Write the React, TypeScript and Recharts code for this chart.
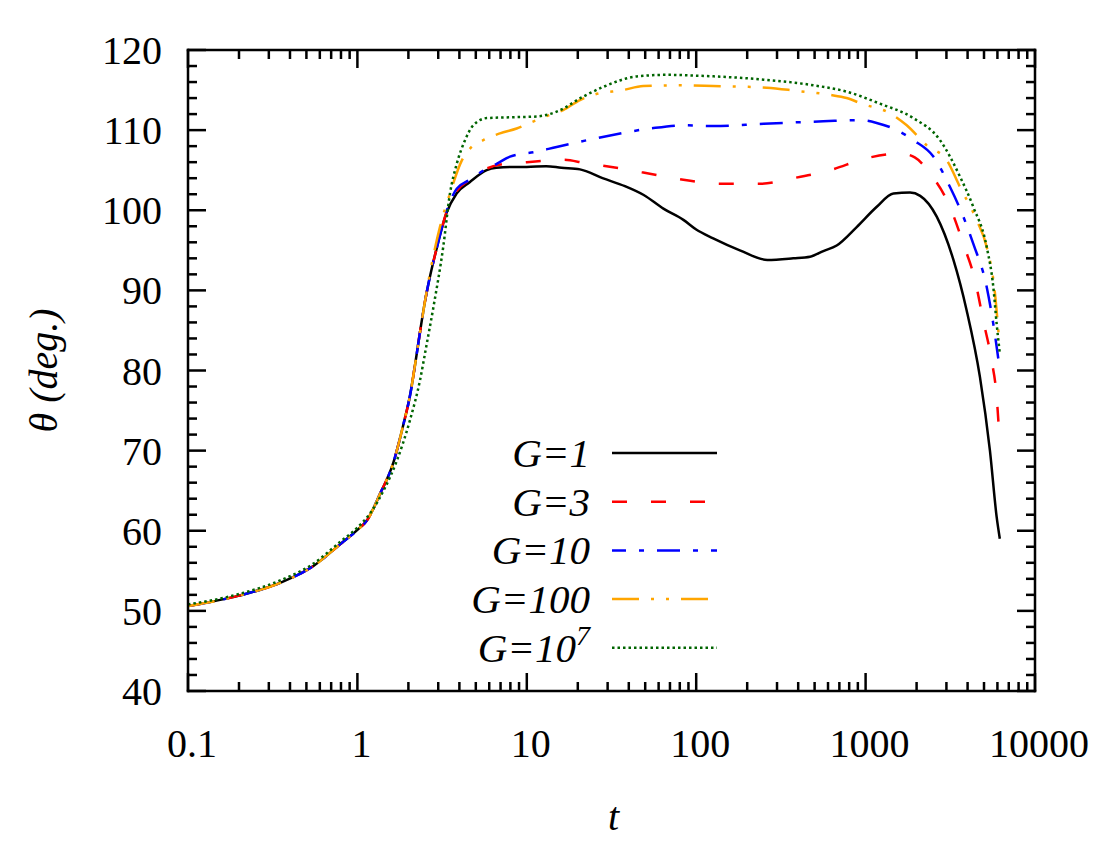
import React from 'react';
import { LineChart, Line, XAxis, YAxis, Legend } from 'recharts';

// ---------- data ----------
const xMajorTicks = [0.1, 1, 10, 100, 1000, 10000];
const xTickLabels = ['0.1', '1', '10', '100', '1000', '10000'];
const yMajorTicks = [40, 50, 60, 70, 80, 90, 100, 110, 120];

// shared early part (t, theta)
const tCommon = [0.1, 0.2, 0.35, 0.55, 0.79, 1.0, 1.14, 1.36, 1.63, 1.87, 2.05, 2.2, 2.35, 2.5];
const thCommon = [50.6, 51.9, 53.5, 55.6, 58.3, 60.1, 61.3, 64.6, 68.5, 73.3, 77, 81, 85, 88.5];

const tG1 = [...tCommon, 2.7, 2.95, 3.35, 3.85, 4.6, 5.8, 6.6, 8, 10, 13, 16, 20.6, 28, 38, 49, 64, 84, 100, 126, 181, 263, 374, 470, 563, 675, 886, 1160, 1460, 1830, 2100, 2630, 3300, 3950, 4730, 5420, 5940, 6200];
const thG1 = [...thCommon, 92, 95.4, 99.6, 102.1, 103.5, 105, 105.3, 105.4, 105.4, 105.5, 105.3, 105.1, 104, 103, 101.9, 100.2, 98.8, 97.6, 96.5, 95, 93.8, 94, 94.2, 94.9, 95.6, 97.9, 100.4, 102.1, 102.2, 101.8, 99.2, 93.8, 87.5, 79.2, 70, 61.7, 59];

const tG3 = [...tCommon, 2.7, 2.95, 3.35, 3.85, 4.6, 5.8, 7, 10, 16.4, 22, 29.6, 48.7, 84, 138, 238, 374, 616, 1014, 1600, 1950, 2400, 3150, 3775, 4434, 4955, 5550, 5940, 6150];
const thG3 = [...thCommon, 92, 95.4, 99.7, 102.4, 103.8, 105.2, 105.7, 106, 106.3, 105.9, 105.5, 104.7, 103.8, 103.3, 103.3, 104, 105, 106.5, 107.1, 106.6, 104.6, 100.4, 95.8, 91.2, 86.2, 81.2, 76.7, 72];

const tG10 = [...tCommon, 2.7, 2.95, 3.35, 3.86, 4.6, 5.8, 6.64, 7.96, 11.4, 15, 25.9, 53.4, 84, 126, 250, 563, 927, 1163, 1457, 1913, 2512, 3150, 3775, 4325, 5190, 5675, 6070];
const thG10 = [...thCommon, 92, 95.4, 99.8, 102.7, 103.8, 105.2, 105.8, 106.7, 107.3, 107.9, 109, 110.2, 110.6, 110.5, 110.8, 111.1, 111.25, 110.9, 110.2, 108.75, 106.7, 102.9, 99.2, 95.8, 90.4, 85.8, 81.5];

const tG100 = [...tCommon, 2.7, 3.07, 3.52, 4.13, 4.62, 5.54, 6.95, 8.71, 10.7, 13.1, 16.4, 20.6, 24.7, 37, 48.7, 84, 126, 261, 392, 616, 773, 948, 1393, 1749, 2295, 3012, 3608, 4530, 5190, 5806, 6100];
const thG100 = [...thCommon, 92.5, 97.9, 102.1, 106.2, 107.7, 108.75, 109.6, 110.2, 111, 111.75, 112.5, 113.75, 114.4, 115, 115.5, 115.6, 115.5, 115.3, 114.9, 114.4, 114, 113.3, 112.1, 110.6, 108.1, 106.25, 102.9, 98.75, 95.4, 89.6, 84.5];

const tG7 = [0.1, 0.2, 0.35, 0.55, 0.79, 1.0, 1.2, 1.45, 1.71, 2.04, 2.34, 2.55, 2.81, 3.21, 3.52, 3.86, 4.32, 4.83, 5.8, 7.96, 11.4, 15, 21.6, 28.3, 44.5, 67, 100, 250, 491, 773, 1216, 1913, 2750, 3608, 4325, 5190, 5675, 5940, 6210];
const thG7 = [50.8, 52.1, 53.8, 55.9, 58.6, 60.4, 62.3, 65.3, 68.75, 73.75, 78.75, 83, 87.9, 95.4, 102.1, 105.8, 108.75, 110.6, 111.5, 111.6, 111.7, 112.3, 114.2, 115.4, 116.7, 116.9, 116.8, 116.3, 115.6, 114.8, 113.3, 111.5, 108.75, 104.2, 100.4, 95.4, 90.4, 85.8, 82];

const toRows = (t: number[], th: number[]) => t.map((v, i) => ({ t: v, th: th[i] }));

const series = [
  { name: 'G=1', sup: '', data: toRows(tG1, thG1), color: '#000000', dash: undefined as string | undefined, offset: 0 },
  { name: 'G=3', sup: '', data: toRows(tG3, thG3), color: '#ff0000', dash: '15 24', offset: 0 },
  { name: 'G=10', sup: '', data: toRows(tG10, thG10), color: '#0000ff', dash: '23 13 5 13', offset: 9 },
  { name: 'G=100', sup: '', data: toRows(tG100, thG100), color: '#ffa500', dash: '27 12 3 12 3 12', offset: 0 },
  { name: 'G=10', sup: '7', data: toRows(tG7, thG7), color: '#006400', dash: '2.5 3', offset: 0 },
];

// ---------- ticks ----------
const xTicks: number[] = [];
xMajorTicks.forEach((d, i) => {
  if (i === xMajorTicks.length - 1) { xTicks.push(d); return; }
  for (let k = 1; k <= 9; k++) xTicks.push(k * d);
});
const yTicks: number[] = [];
for (let v = yMajorTicks[0]; v <= yMajorTicks[yMajorTicks.length - 1]; v += 2) yTicks.push(v);

const isXMajor = (v: number) => Math.abs(Math.log10(v) - Math.round(Math.log10(v))) < 1e-6;
const xLabel = (v: number) => {
  const i = xMajorTicks.findIndex((m) => Math.abs(m - v) / m < 1e-6);
  return i >= 0 ? xTickLabels[i] : '';
};
const isYMajor = (v: number) => v % 10 === 0;

const FONT = '"Liberation Serif", "Times New Roman", serif';
const MAJ = 18;
const MIN = 9;
const TW = 2.5;

const BottomTick = (p: any) => {
  const { x, y, payload } = p;
  const v = payload.value;
  const major = isXMajor(v);
  return (
    <g>
      <line x1={x} x2={x} y1={y} y2={y - (major ? MAJ : MIN)} stroke="#000" strokeWidth={TW} />
      {major && (
        <text x={x + 4} y={y + 66} textAnchor="middle" fontSize={40} fontFamily={FONT} fill="#000">
          {xLabel(v)}
        </text>
      )}
    </g>
  );
};
const TopTick = (p: any) => {
  const { x, y, payload } = p;
  const major = isXMajor(payload.value);
  return <line x1={x} x2={x} y1={y} y2={y + (major ? MAJ : MIN)} stroke="#000" strokeWidth={TW} />;
};
const LeftTick = (p: any) => {
  const { x, y, payload } = p;
  const v = payload.value;
  const major = isYMajor(v);
  return (
    <g>
      <line x1={x} x2={x + (major ? MAJ : MIN)} y1={y} y2={y} stroke="#000" strokeWidth={TW} />
      {major && (
        <text x={x - 26} y={y + 14} textAnchor="end" fontSize={40} fontFamily={FONT} fill="#000">
          {v}
        </text>
      )}
    </g>
  );
};
const RightTick = (p: any) => {
  const { x, y, payload } = p;
  const major = isYMajor(payload.value);
  return <line x1={x} x2={x - (major ? MAJ : MIN)} y1={y} y2={y} stroke="#000" strokeWidth={TW} />;
};

const YTitle = (p: any) => {
  const vb = p.viewBox || { x: 88, y: 50, width: 100, height: 641 };
  const cx = vb.x - 45;
  const cy = vb.y + vb.height / 2;
  return (
    <text x={cx} y={cy} transform={`rotate(-90 ${cx} ${cy})`} textAnchor="middle" dominantBaseline="central"
      fontSize={40} fontStyle="italic" fontFamily={FONT} fill="#000">
      θ (deg.)
    </text>
  );
};
const XTitle = (p: any) => {
  const vb = p.viewBox || { x: 188, y: 691, width: 847, height: 80 };
  return (
    <text x={vb.x + vb.width / 2 + 2} y={vb.y + 139} textAnchor="middle" fontSize={40} fontStyle="italic"
      fontFamily={FONT} fill="#000">
      t
    </text>
  );
};

const LegendBox = () => (
  <svg width={320} height={260} style={{ overflow: 'visible' }}>
    {series.map((s, i) => {
      const cy = 33 + i * 48.7;
      return (
        <g key={i}>
          <text x={150} y={cy + 14} textAnchor="end" fontSize={41} fontStyle="italic" fontFamily={FONT} fill="#000">
            {s.name}
            {s.sup && (
              <tspan fontSize={28} dy={-17}>
                {s.sup}
              </tspan>
            )}
          </text>
          <line x1={172} x2={277} y1={cy} y2={cy} stroke={s.color} strokeWidth={2.5} strokeDasharray={s.dash}
            strokeDashoffset={s.offset} />
        </g>
      );
    })}
  </svg>
);

const axisLine = { stroke: '#000', strokeWidth: 2.5, strokeLinecap: 'square' as const };

export default function App() {
  return (
    <div style={{ position: 'absolute', left: 0, top: 0, width: 1100, height: 850, background: '#fff' }}>
      <LineChart width={1100} height={850} margin={{ top: 40, right: 55, bottom: 79, left: 88 }}>
        <XAxis
          xAxisId="b"
          type="number"
          dataKey="t"
          scale="log"
          domain={[0.1, 10000]}
          ticks={xTicks}
          interval={0}
          tickSize={0}
          tickMargin={0}
          tickLine={false}
          axisLine={axisLine}
          tick={(p: any) => <BottomTick {...p} />}
          height={80}
          allowDataOverflow
          label={(p: any) => <XTitle {...p} />}
        />
        <XAxis
          xAxisId="t"
          orientation="top"
          type="number"
          dataKey="t"
          scale="log"
          domain={[0.1, 10000]}
          ticks={xTicks}
          interval={0}
          tickSize={0}
          tickMargin={0}
          tickLine={false}
          axisLine={axisLine}
          tick={(p: any) => <TopTick {...p} />}
          height={10}
          allowDataOverflow
        />
        <YAxis
          yAxisId="l"
          type="number"
          domain={[40, 120]}
          ticks={yTicks}
          interval={0}
          tickSize={0}
          tickMargin={0}
          tickLine={false}
          axisLine={axisLine}
          tick={(p: any) => <LeftTick {...p} />}
          width={100}
          allowDataOverflow
          label={(p: any) => <YTitle {...p} />}
        />
        <YAxis
          yAxisId="r"
          orientation="right"
          type="number"
          domain={[40, 120]}
          ticks={yTicks}
          interval={0}
          tickSize={0}
          tickMargin={0}
          tickLine={false}
          axisLine={axisLine}
          tick={(p: any) => <RightTick {...p} />}
          width={10}
          allowDataOverflow
        />
        {series.map((s, i) => (
          <Line
            key={i}
            xAxisId="b"
            yAxisId="l"
            data={s.data}
            dataKey="th"
            name={s.name + s.sup}
            type="monotone"
            stroke={s.color}
            strokeWidth={2.5}
            strokeDasharray={s.dash}
            dot={false}
            activeDot={false}
            isAnimationActive={false}
          />
        ))}
        <Legend
          layout="vertical"
          align="center"
          verticalAlign="middle"
          wrapperStyle={{ left: 440, top: 420, width: 320, height: 260 }}
          content={() => <LegendBox />}
        />
      </LineChart>
    </div>
  );
}
